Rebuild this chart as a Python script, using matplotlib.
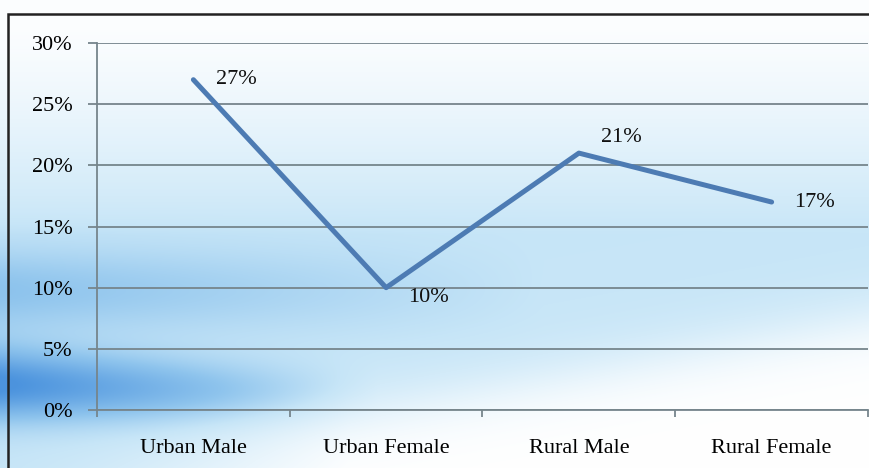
import numpy as np
import matplotlib.pyplot as plt
from matplotlib.patches import Rectangle

categories = ['Urban Male', 'Urban Female', 'Rural Male', 'Rural Female']
values = [27, 10, 21, 17]
labels = ['27%', '10%', '21%', '17%']
yticks = [0, 5, 10, 15, 20, 25, 30]

plt.rcParams['font.family'] = ['Liberation Serif', 'DejaVu Serif']

fig = plt.figure(figsize=(8.7, 4.68), dpi=100)

# background: soft blue swooshes
bg = fig.add_axes([0, 0, 1, 1], zorder=0)
h, w = 468, 870
yy, xx = np.mgrid[0:h, 0:w]
u = xx / w
v = yy / h
t = 0.02 + 0.33 * np.clip((v - 0.05) / 0.45, 0, 1) ** 1.3
t = t + 0.26 * np.exp(-((v - 0.62) / 0.09) ** 2) * np.clip(1 - 1.6 * u, 0, 1)
# dark wedge bottom-left
vc = 0.82 + 0.06 * u
t = t + 0.68 * np.exp(-((v - vc) / (0.075 * (1 - 0.5 * u))) ** 2) * np.clip(1 - 2.3 * u, 0, 1)
# white swoosh towards lower right
vb = 1.02 - 0.34 * u
s = 1 / (1 + np.exp(-(v - vb) / 0.04))
t = t * (1 - s * np.clip(u * 2.5, 0, 1))
t = np.clip(t, 0, 1)
stops = np.array([0, 0.35, 0.6, 1.0])
cols = np.array([[1.0, 1.0, 1.0],
                 [0.78, 0.90, 0.97],
                 [0.56, 0.77, 0.93],
                 [0.30, 0.58, 0.87]])
img = np.stack([np.interp(t, stops, cols[:, k]) for k in range(3)], axis=-1)
bg.imshow(img, aspect='auto', extent=[0, 1, 0, 1], origin='upper')
bg.set_xlim(0, 1)
bg.set_ylim(0, 1)
bg.axis('off')

fig.patches.append(Rectangle((8 / w, -0.1), 1.1, 1 - 14 / h + 0.1, transform=fig.transFigure,
                             fill=False, edgecolor='#222222', linewidth=1.8, zorder=5))

ax = fig.add_axes([97 / w, 1 - 410 / h, (868 - 97) / w, (410 - 43) / h], zorder=2)
ax.patch.set_alpha(0)
x = np.arange(len(categories))
ax.plot(x, values, color='#4d7bb3', linewidth=3.6, solid_capstyle='round', zorder=3)

offsets = [(16, 0), (16, -7), (16, 11), (16, 0)]
for xi, yi, lab, off in zip(x, values, labels, offsets):
    ax.annotate(lab, (xi, yi), xytext=off, textcoords='offset points',
                fontsize=16, ha='left', va='center', color='#111111')

ax.set_xlim(-0.5, len(categories) - 0.5)
ax.set_ylim(0, 30)
ax.set_yticks(yticks)
ax.set_yticklabels([f'{t}%' for t in yticks], fontsize=16)
ax.yaxis.grid(True, color='#76858c', linewidth=1.3)
ax.set_axisbelow(True)
ax.set_xticks(x)
ax.set_xticklabels(categories, fontsize=16)
ax.set_xticks(np.arange(-0.5, len(categories)), minor=True)
ax.tick_params(axis='x', which='major', length=0, pad=21)
ax.tick_params(axis='x', which='minor', length=5, color='#76858c', width=1.3)
ax.tick_params(axis='y', length=6.5, color='#76858c', width=1.3, pad=11)
for s in ['top', 'right']:
    ax.spines[s].set_visible(False)
for s in ['left', 'bottom']:
    ax.spines[s].set_color('#76858c')
    ax.spines[s].set_linewidth(1.3)

fig.savefig('out.png', dpi=100)
